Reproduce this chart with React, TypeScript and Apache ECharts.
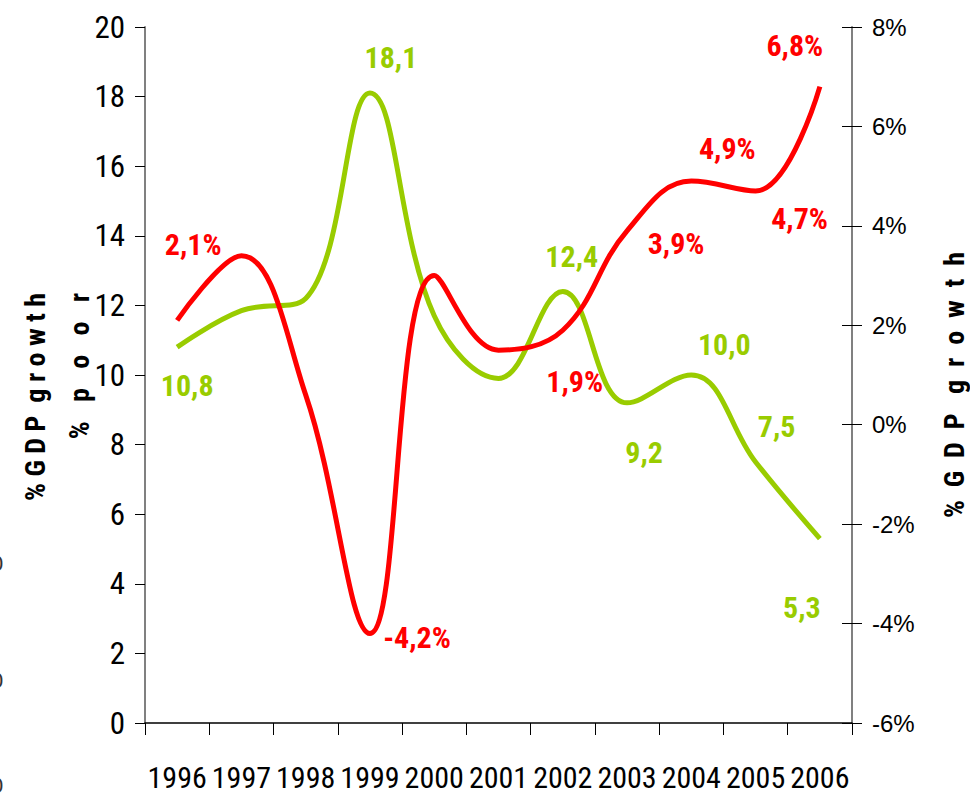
import React, { useEffect, useRef } from "react";
import * as echarts from "echarts";

const years = ["1996", "1997", "1998", "1999", "2000", "2001", "2002", "2003", "2004", "2005", "2006"];
const poorValues = [10.8, 11.85, 12.2, 18.1, 11.7, 9.9, 12.4, 9.2, 10.0, 7.5, 5.3];
const gdpValues = [2.1, 3.4, 0.6, -4.2, 3.0, 1.5, 1.9, 3.9, 4.9, 4.7, 6.8];
// label offsets [dx, dy] from each point (null = no label)
const poorLabelOffsets: ([number, number] | null)[] = [[10, 38], null, null, [21, -36], null, null, [9, -35], [17, 50], [33, -31], [21, -36], [-18, 69]];
const gdpLabelOffsets: ([number, number] | null)[] = [[16, -76], null, null, [47, 4], null, null, [12, 51], [49, 13], [36, -33], [44, 27], [-25, -41]];
const leftTitleLines = ["% G D P  g r o w t h", "%   p   o   o   r"];
const rightTitle = "%  G  D  P   g  r  o  w  t  h";

const NARROW = "'Roboto Condensed', 'Liberation Sans', sans-serif";
const REG = "'Liberation Sans', Arial, sans-serif";
const GREEN = "#99CC00";
const RED = "#FF0000";

const fmt = (v: number) => v.toFixed(1).replace(".", ",");

export default function App() {
  const ref = useRef<HTMLDivElement>(null);
  useEffect(() => {
    if (!ref.current) return;
    const chart = echarts.init(ref.current, undefined, { renderer: "svg" });
    const mkData = (vals: number[], offs: ([number, number] | null)[], pct: boolean) =>
      vals.map((v, i) => {
        const o = offs[i];
        return o
          ? { value: v, label: { show: true, position: "inside", offset: o, formatter: () => fmt(v) + (pct ? "%" : "") } }
          : { value: v };
      });
    const titleStyle = { fontFamily: NARROW, fontSize: 28, fontWeight: "bold", fill: "#000", textAlign: "right", textVerticalAlign: "middle" };
    chart.setOption({
      animation: false,
      backgroundColor: "#ffffff",
      grid: { left: 145, right: 118, top: 27, bottom: 71, containLabel: false },
      xAxis: {
        type: "category",
        data: years,
        boundaryGap: true,
        axisLine: { lineStyle: { color: "#000000", width: 1.5 } },
        axisTick: { show: true, length: 12, lineStyle: { color: "#000000", width: 1 } },
        axisLabel: { fontFamily: NARROW, fontSize: 30, color: "#000000", margin: 39, interval: 0 },
        splitLine: { show: false },
      },
      yAxis: [
        {
          type: "value", min: 0, max: 20, interval: 2, position: "left",
          axisLine: { show: true, lineStyle: { color: "#808080", width: 2 } },
          axisTick: { show: true, length: 10, lineStyle: { color: "#000000", width: 1 } },
          axisLabel: { fontFamily: NARROW, fontSize: 31, color: "#000000", margin: 20 },
          splitLine: { show: false },
        },
        {
          type: "value", min: -6, max: 8, interval: 2, position: "right",
          axisLine: { show: true, lineStyle: { color: "#808080", width: 2 } },
          axisTick: { show: true, length: 10, lineStyle: { color: "#000000", width: 1 } },
          axisLabel: { fontFamily: REG, fontSize: 24, color: "#000000", margin: 20, formatter: (v: number) => v + "%" },
          splitLine: { show: false },
        },
        {
          type: "value", min: -6, max: 8, interval: 2, position: "right",
          axisLine: { show: false },
          axisTick: { show: true, inside: true, length: 10, lineStyle: { color: "#000000", width: 1 } },
          axisLabel: { show: false },
          splitLine: { show: false },
        },
      ],
      series: [
        {
          type: "line", name: "% poor", yAxisIndex: 0,
          data: mkData(poorValues, poorLabelOffsets, false),
          smooth: 0.4, symbol: "circle", symbolSize: 0, showSymbol: true,
          itemStyle: { color: GREEN },
          lineStyle: { color: GREEN, width: 5 },
          label: { color: GREEN, fontFamily: NARROW, fontSize: 30, fontWeight: "bold" },
          z: 2,
        },
        {
          type: "line", name: "% GDP growth", yAxisIndex: 1,
          data: mkData(gdpValues, gdpLabelOffsets, true),
          smooth: 0.4, symbol: "circle", symbolSize: 0, showSymbol: true,
          itemStyle: { color: RED },
          lineStyle: { color: RED, width: 5 },
          label: { color: RED, fontFamily: NARROW, fontSize: 30, fontWeight: "bold" },
          z: 3,
        },
      ],
      graphic: [
        { type: "text", x: 35, y: 293, rotation: Math.PI / 2, style: { ...titleStyle, text: leftTitleLines[0] } },
        { type: "text", x: 79, y: 293, rotation: Math.PI / 2, style: { ...titleStyle, text: leftTitleLines[1] } },
        { type: "text", x: 954, y: 252, rotation: Math.PI / 2, style: { ...titleStyle, text: rightTitle } },
        { type: "text", x: -9, y: 563, style: { text: "0", fontFamily: REG, fontSize: 22, fill: "#333", textVerticalAlign: "middle" } },
        { type: "text", x: -9, y: 680, style: { text: "0", fontFamily: REG, fontSize: 22, fill: "#333", textVerticalAlign: "middle" } },
        { type: "text", x: -9, y: 785, style: { text: "0", fontFamily: REG, fontSize: 22, fill: "#333", textVerticalAlign: "middle" } },
      ],
    });
    return () => chart.dispose();
  }, []);
  return <div ref={ref} style={{ position: "fixed", left: 0, top: 0, width: 970, height: 794, background: "#fff" }} />;
}
